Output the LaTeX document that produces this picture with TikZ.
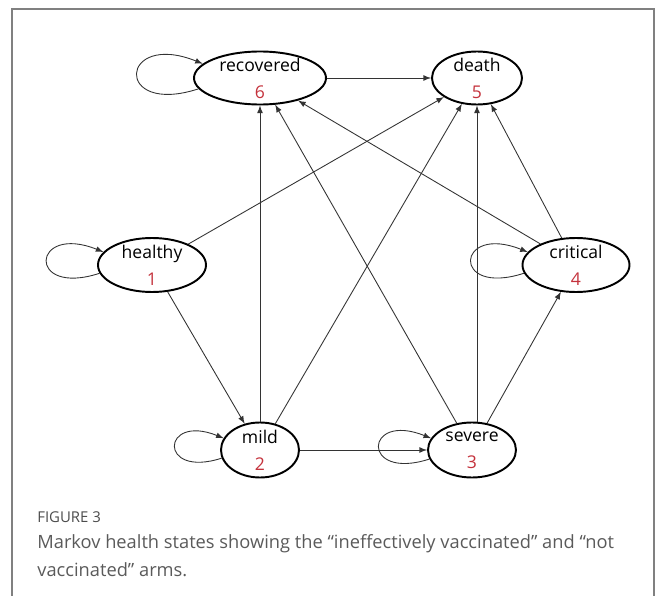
\documentclass[tikz,border=0pt]{standalone}
\usepackage{fontspec}
\setmainfont{Open Sans}
\usetikzlibrary{arrows}
\usetikzlibrary{shapes.geometric}
\definecolor{numred}{RGB}{196,50,60}
\definecolor{capgray}{RGB}{90,90,90}
\tikzstyle{graph}=[font=\fontsize{10}{15.4}\selectfont]
\tikzstyle{state}=[ellipse, draw=black, line width=1.1pt, inner sep=0pt, inner ysep=-3pt, align=center]
\tikzstyle{edge}=[->, draw=black!80, line width=0.5pt, -latex]
\tikzstyle{loopl}=[out=198, in=158, distance=1.55cm]
\tikzstyle{frame}=[draw=black!50, line width=1.1pt]
\tikzstyle{captext}=[anchor=west, inner sep=0pt, align=left, text=capgray]

\begin{document}
\begin{tikzpicture}[graph]
	\useasboundingbox (0,0) rectangle (13.12,-11.92);
	\draw[frame] (0.24,-11.92) |- (13.08,-0.18) -- (13.08,-11.92);
	%
	\draw (5.2,-1.56) node[state, minimum width=2.64cm, minimum height=1.06cm] (rec) {recovered\\\textcolor{numred}{6}};
	\draw (9.54,-1.56) node[state, minimum width=1.8cm, minimum height=1.06cm] (dea) {death\\\textcolor{numred}{5}};
	\draw (3.04,-5.3) node[state, minimum width=2.16cm, minimum height=1.08cm] (hea) {healthy\\\textcolor{numred}{1}};
	\draw (11.52,-5.3) node[state, minimum width=2.14cm, minimum height=1.08cm] (cri) {critical\\\textcolor{numred}{4}};
	\draw (5.2,-9.0) node[state, minimum width=1.56cm, minimum height=1.1cm] (mil) {mild\\\textcolor{numred}{2}};
	\draw (9.44,-9.0) node[state, minimum width=1.76cm, minimum height=1.1cm] (sev) {severe\\\textcolor{numred}{3}};
	%
	\draw[edge] (rec) -- (dea);
	\draw[edge] (hea) -- (dea);
	\draw[edge] (hea) -- (mil);
	\draw[edge] (mil) -- (rec);
	\draw[edge] (mil) -- (dea);
	\draw[edge] (mil) -- (sev);
	\draw[edge] (sev) -- (rec);
	\draw[edge] (sev.north -| dea.south) -- (dea.south);
	\draw[edge] (sev) -- (cri);
	\draw[edge] (cri) -- (rec);
	\draw[edge] (cri) -- (dea);
	%
	\draw[edge] (rec.190) to[loopl, distance=1.8cm] (rec.166);
	\draw[edge] (hea.189) to[loopl] (hea.165);
	\draw[edge] (mil.192) to[loopl, distance=1.35cm] (mil.162);
	\draw[edge] (sev.192) to[loopl, distance=1.45cm] (sev.164);
	\draw[edge] (cri.189) to[loopl] (cri.165);
	%
	\node[captext, font=\fontsize{8.5}{10}\selectfont, text=black!70] (fig) at (0.74,-10.34) {FIGURE 3};
	\node[captext, font=\fontsize{10.4}{16}\selectfont] (txt) at (0.74,-11.12) {Markov health states showing the “ineffectively vaccinated” and “not\\vaccinated” arms.};
\end{tikzpicture}
\end{document}
